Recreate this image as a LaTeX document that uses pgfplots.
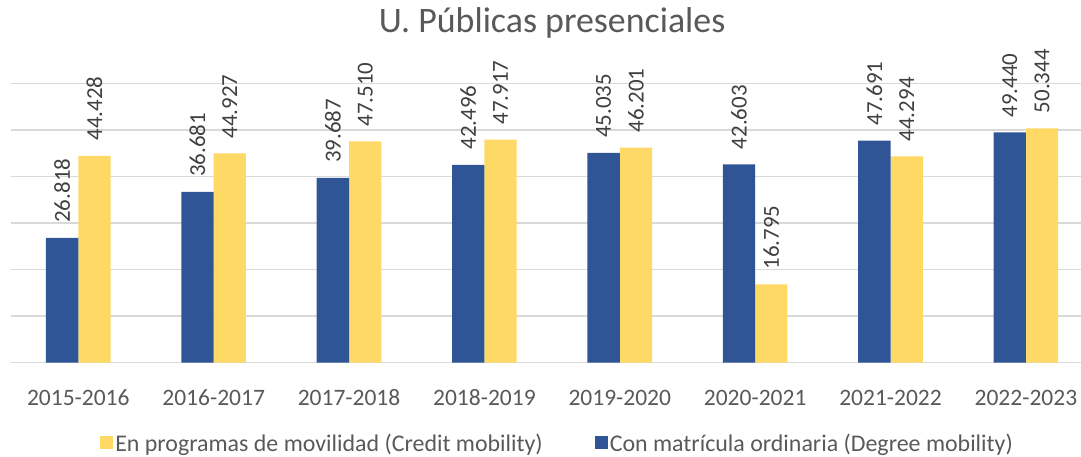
\documentclass[border=0pt]{standalone}
\usepackage{pgfplots}
\pgfplotsset{compat=1.18}
\usepackage{fontspec}
\setmainfont{Carlito}
\definecolor{dblue}{HTML}{2F5597}
\definecolor{gold}{HTML}{FFD966}
\definecolor{lbl}{HTML}{404040}
\definecolor{txt}{HTML}{595959}
\definecolor{gridc}{HTML}{D9D9D9}
\pgfplotstableread{
x credit degree
0 44.428 26.818
1 44.927 36.681
2 47.510 39.687
3 47.917 42.496
4 46.201 45.035
5 16.795 42.603
6 44.294 47.691
7 50.344 49.440
}\datatable
\begin{document}
\begin{tikzpicture}
\begin{axis}[
  at={(0,0)}, anchor=south west,
  scale only axis, width=1083bp, height=279.4bp,
  xmin=-0.5, xmax=7.5, ymin=0, ymax=60,
  ytick={0,10,...,60}, yticklabels={},
  ymajorgrids, grid style={gridc, line width=1.3bp},
  xtick={0,...,7},
  xticklabels={2015-2016,2016-2017,2017-2018,2018-2019,2019-2020,2020-2021,2021-2022,2022-2023},
  axis line style={draw=none}, tick style={draw=none},
  xticklabel style={font=\fontsize{23.6}{28}\selectfont, text=txt, anchor=base, yshift=-39bp},
  ybar, bar width=32.3bp,
  clip=false,
  nodes near coords={\pgfmathprintnumber[fixed,fixed zerofill,precision=3,assume math mode=true]{\pgfplotspointmeta}},
  nodes near coords style={rotate=90, anchor=west, inner xsep=15bp, inner ysep=0pt,
     font=\fontsize{23}{28}\selectfont, text=lbl},
  title={U. Públicas presenciales},
  title style={at={(0.5,1)}, anchor=base, yshift=45.3bp, font=\fontsize{36}{42}\selectfont, text=txt},
  legend columns=2,
  legend style={draw=none, fill=none, at={(0.5,0)}, anchor=center, yshift=-81bp, xshift=5.5bp,
    font=\fontsize{24}{28}\selectfont, text=txt, inner ysep=0pt,
    nodes={inner ysep=0.5bp},
    /tikz/every even column/.append style={column sep=50bp}},
  legend image code/.code={\fill[#1] (0bp,-5.5bp) rectangle (13bp,7.5bp);},
]
\addplot[fill=gold, draw=none, bar shift=16.15bp] table[x=x, y=credit] {\datatable};
\addlegendentry{En programas de movilidad (Credit mobility)}
\addplot[fill=dblue, draw=none, bar shift=-16.15bp] table[x=x, y=degree] {\datatable};
\addlegendentry{Con matrícula ordinaria (Degree mobility)}
\end{axis}
\pgfresetboundingbox
\path (-10.6bp,-94.3bp) rectangle (1070.4bp,362.7bp);
\end{tikzpicture}
\end{document}
